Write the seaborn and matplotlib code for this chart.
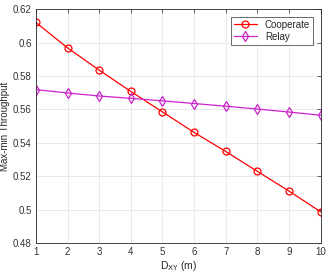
import numpy as np
import pandas as pd
import matplotlib
matplotlib.use("Agg")
import matplotlib.pyplot as plt
import seaborn as sns

# data
d_xy = [1, 2, 3, 4, 5, 6, 7, 8, 9, 10]
cooperate = [0.6120, 0.5968, 0.5835, 0.5707, 0.5585, 0.5462, 0.5348, 0.5229, 0.5111, 0.4987]
relay = [0.5718, 0.5698, 0.5680, 0.5666, 0.5651, 0.5635, 0.5619, 0.5602, 0.5584, 0.5565]

sns.set_style("white")
plt.rcParams['font.family'] = ['Liberation Sans', 'DejaVu Sans']

fig = plt.figure(figsize=(3.32, 2.75), dpi=100)
ax = fig.add_axes([0.108, 0.116, 0.858, 0.851])

sns.lineplot(x=d_xy, y=cooperate, ax=ax, color="red", marker="o", markersize=5,
             markerfacecolor="none", markeredgecolor="red", markeredgewidth=0.9,
             linewidth=0.9, label="Cooperate")
sns.lineplot(x=d_xy, y=relay, ax=ax, color="#cc22cc", marker="d", markersize=5,
             markerfacecolor="none", markeredgecolor="#cc22cc", markeredgewidth=0.9,
             linewidth=0.9, label="Relay")

ax.set_xlim(1, 10)
ax.set_ylim(0.48, 0.62)
ax.set_xticks(range(1, 11))
ax.set_yticks(np.arange(0.48, 0.621, 0.02))
ax.set_yticklabels(["0.48", "0.5", "0.52", "0.54", "0.56", "0.58", "0.6", "0.62"])
ax.grid(True, color="#e6e6e6", linewidth=0.6)
ax.tick_params(direction="in", length=3, width=0.5, labelsize=7, colors="#262626",
               labelcolor="#333333", top=True, right=True, pad=3)
for s in ax.spines.values():
    s.set_color("#262626")
    s.set_linewidth(0.6)

ax.set_xlabel("D$_{\\mathrm{XY}}$ (m)", fontsize=7.5, labelpad=1, color="#262626")
ax.set_ylabel("Max-min Throughput", fontsize=7, labelpad=2, color="#262626")

leg = ax.legend(loc="upper right", fontsize=7, frameon=True, fancybox=False,
                edgecolor="#262626", borderpad=0.3, handlelength=2.4,
                labelspacing=0.2, borderaxespad=0.8)
leg.get_frame().set_linewidth(0.6)

fig.savefig("out.png", dpi=100)
